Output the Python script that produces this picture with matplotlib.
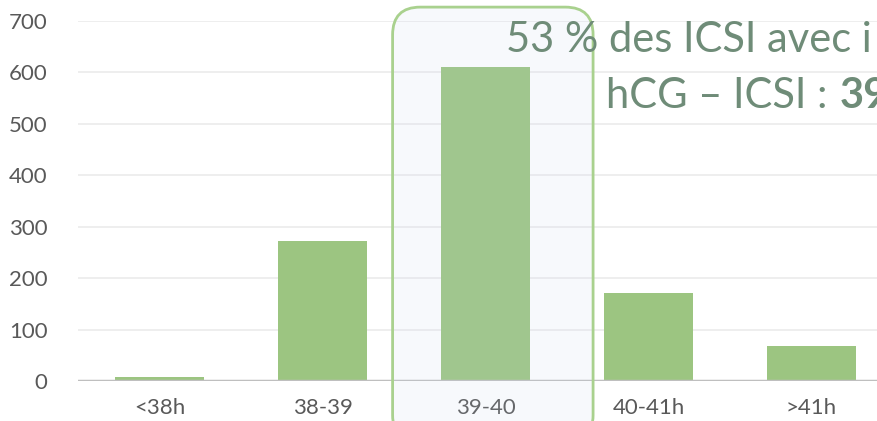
import matplotlib.pyplot as plt
from matplotlib.patches import FancyBboxPatch

# Délai hCG – ICSI : nombre d'ICSI par tranche horaire
categories = ['<38h', '38-39', '39-40', '40-41h', '>41h']
nb_icsi = [8, 272, 611, 171, 68]

plt.rcParams['font.family'] = ['Lato', 'DejaVu Sans']

fig = plt.figure(figsize=(8.77, 4.21), dpi=100)
ax = fig.add_axes([78 / 877, 40 / 421, 815 / 877, 360 / 421])

x = range(len(categories))
ax.bar(x, nb_icsi, width=0.55, color='#9CC581', zorder=2)

ax.set_xlim(-0.5, len(categories) - 0.5)
ax.set_ylim(0, 700)
ax.set_yticks(range(0, 701, 100))
ax.set_xticks(list(x))
ax.set_xticklabels(categories)
ax.grid(axis='y', color='#EBEBEB', linewidth=1.2, zorder=0)
ax.axhline(0, color='#BFBFBF', linewidth=2.5, zorder=3)
for s in ax.spines.values():
    s.set_visible(False)
ax.tick_params(axis='both', length=0, labelsize=16, labelcolor='#595959')
ax.tick_params(axis='y', pad=22)
ax.tick_params(axis='x', pad=12)

# Encadré autour de la tranche 39-40
style = 'round,pad=0,rounding_size=0.17'
cadre = FancyBboxPatch((1.43, -120), 1.23, 847, boxstyle=style,
                       mutation_aspect=317, transform=ax.transData,
                       clip_on=False, facecolor='#C5D5EE', alpha=0.12,
                       edgecolor='none', zorder=4)
ax.add_patch(cadre)
bord = FancyBboxPatch((1.43, -120), 1.23, 847, boxstyle=style,
                      mutation_aspect=317, transform=ax.transData,
                      clip_on=False, facecolor='none', edgecolor='#A9D18E',
                      linewidth=2, zorder=5)
ax.add_patch(bord)

couleur_txt = '#6F8C78'
fig.text(506 / 877, 1 - 40 / 421, '53 % des ICSI avec i', fontsize=30,
         color=couleur_txt, ha='left', va='center', zorder=10)
ligne2 = fig.text(606 / 877, 1 - 96 / 421, 'hCG – ICSI :', fontsize=30,
                  color=couleur_txt, ha='left', va='center', zorder=10)
ax.annotate('39', xy=(1, 0.5), xycoords=ligne2, xytext=(9, 0),
            textcoords='offset points', fontsize=30, fontweight='bold',
            color=couleur_txt, ha='left', va='center',
            annotation_clip=False, zorder=10)

fig.savefig('out.png', dpi=100)
